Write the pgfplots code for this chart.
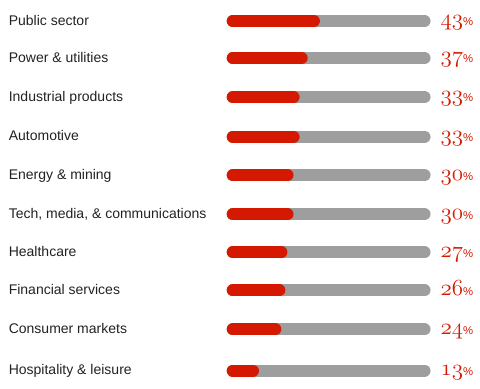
\documentclass[border=0pt]{standalone}
\usepackage{pgfplots}
\pgfplotsset{compat=1.18}
\usepackage{pgfplotstable}
\usepackage{fontspec}
\setmainfont{Liberation Sans}
\definecolor{barred}{HTML}{D51900}
\definecolor{bargray}{HTML}{9E9E9E}
\definecolor{txt}{HTML}{222222}
\newcommand{\pct}[1]{{\usefont{OML}{cmm}{m}{it}\fontsize{16}{16}\selectfont #1}{\fontsize{8.5}{8.5}\selectfont\rmfamily\%}}
\pgfplotstableread[col sep=comma]{
y,v,label
21,43,Public sector
58,37,Power \& utilities
97,33,Industrial products
136.5,33,Automotive
175,30,Energy \& mining
214,30,{Tech, media, \& communications}
252,27,Healthcare
290,26,Financial services
329,24,Consumer markets
370,13,Hospitality \& leisure
}\datatable
\begin{document}
\begin{tikzpicture}
\begin{axis}[
  scale only axis, width=360pt, height=291pt,
  xmin=-111.6, xmax=124.8, ymin=0, ymax=388, y dir=reverse,
  hide axis, clip=false, unbounded coords=jump,
]
\draw[draw=none] (rel axis cs:0,0) rectangle (rel axis cs:1,1);
\addplot[bargray, line width=9pt, line cap=round] coordinates {
(3,21) (97.5,21) (3,nan)
(3,58) (97.5,58) (3,nan)
(3,97) (97.5,97) (3,nan)
(3,136.5) (97.5,136.5) (3,nan)
(3,175) (97.5,175) (3,nan)
(3,214) (97.5,214) (3,nan)
(3,252) (97.5,252) (3,nan)
(3,290) (97.5,290) (3,nan)
(3,329) (97.5,329) (3,nan)
(3,370) (97.5,370)
};
\addplot[barred, line width=9pt, line cap=round] coordinates {
(3,21) (43,21) (3,nan)
(3,58) (37,58) (3,nan)
(3,97) (33,97) (3,nan)
(3,136.5) (33,136.5) (3,nan)
(3,175) (30,175) (3,nan)
(3,214) (30,214) (3,nan)
(3,252) (27,252) (3,nan)
(3,290) (26,290) (3,nan)
(3,329) (24,329) (3,nan)
(3,370) (13,370)
};
\addplot[draw=none, mark=none, point meta=explicit symbolic,
  nodes near coords, nodes near coords style={anchor=base west, inner sep=0pt, font=\fontsize{10.5}{12}\selectfont, text=txt, yshift=-3pt}]
  table[x expr=-107.4, y=y, meta=label] {\datatable};
\addplot[draw=none, mark=none, point meta=explicit symbolic,
  nodes near coords={\pct{\pgfplotspointmeta}}, nodes near coords style={anchor=base west, inner sep=0pt, text=barred, yshift=-3.6pt}]
  table[x expr=105.3, y=y, meta=v] {\datatable};
\end{axis}
\end{tikzpicture}
\end{document}
